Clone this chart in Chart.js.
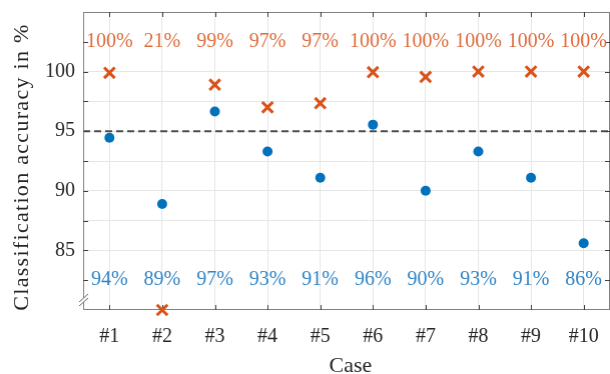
<!DOCTYPE html>
<html>
<head>
<meta charset="utf-8">
<script src="https://cdn.jsdelivr.net/npm/chart.js@4.4.1/dist/chart.umd.min.js"></script>
<style>
  html, body { margin: 0; padding: 0; background: #fff; overflow: hidden; }
  #wrap { width: 610px; height: 374px; }
</style>
</head>
<body>
<div id="wrap"><canvas id="accChart"></canvas></div>
<script>
// values
const cases = ['#1', '#2', '#3', '#4', '#5', '#6', '#7', '#8', '#9', '#10'];
const baselineAcc = [94.45, 88.9, 96.65, 93.3, 91.1, 95.55, 90.0, 93.3, 91.1, 85.6];
const improvedAcc = [99.9, 80.0, 98.9, 97.0, 97.35, 99.95, 99.55, 100, 100, 100];
const baselineText = ['94%', '89%', '97%', '93%', '91%', '96%', '90%', '93%', '91%', '86%'];
const improvedText = ['100%', '21%', '99%', '97%', '97%', '100%', '100%', '100%', '100%', '100%'];
const yTickLabels = [85, 90, 95, 100];
const threshold = 95;

const BLUE = '#0072BD';
const ORANGE = '#D95319';
const SERIF = '"Liberation Serif", "Times New Roman", serif';

const noPad = (s) => { s.paddingLeft = 0; s.paddingRight = 0; s.paddingTop = 0; s.paddingBottom = 0; };

const decor = {
    id: 'decor',
    beforeDatasetsDraw(chart) {
        const { ctx, chartArea: a, scales: { x, y } } = chart;
        ctx.save();
        // 95 % reference line
        const ty = y.getPixelForValue(threshold);
        ctx.strokeStyle = '#4d4d4d';
        ctx.lineWidth = 2;
        ctx.setLineDash([7, 4]);
        ctx.beginPath();
        ctx.moveTo(a.left, ty);
        ctx.lineTo(a.right, ty);
        ctx.stroke();
        ctx.setLineDash([]);

        // box + inward ticks
        ctx.strokeStyle = '#808080';
        ctx.lineWidth = 1;
        ctx.strokeRect(a.left + 0.5, a.top + 0.5, a.right - a.left - 1, a.bottom - a.top - 1);
        ctx.strokeStyle = '#404040';
        ctx.beginPath();
        y.ticks.forEach((t) => {
            if (t.value <= y.min || t.value >= y.max) return;
            const py = Math.round(y.getPixelForValue(t.value)) + 0.5;
            ctx.moveTo(a.left, py); ctx.lineTo(a.left + 5, py);
            ctx.moveTo(a.right, py); ctx.lineTo(a.right - 5, py);
        });
        cases.forEach((c, i) => {
            const px = Math.round(x.getPixelForValue(i)) + 0.5;
            ctx.moveTo(px, a.bottom); ctx.lineTo(px, a.bottom - 5);
            ctx.moveTo(px, a.top); ctx.lineTo(px, a.top + 5);
        });
        ctx.stroke();

        // axis break mark
        const by = a.bottom - 13;
        ctx.fillStyle = '#fff';
        ctx.beginPath();
        ctx.moveTo(a.left - 4, by + 5); ctx.lineTo(a.left + 5, by - 3);
        ctx.lineTo(a.left + 5, by + 1); ctx.lineTo(a.left - 4, by + 9);
        ctx.closePath();
        ctx.fill();
        ctx.strokeStyle = '#666';
        ctx.beginPath();
        ctx.moveTo(a.left - 4, by + 5); ctx.lineTo(a.left + 5, by - 3);
        ctx.moveTo(a.left - 4, by + 9); ctx.lineTo(a.left + 5, by + 1);
        ctx.stroke();
        ctx.restore();
    },
    afterDatasetsDraw(chart) {
        const { ctx, chartArea: a, scales: { x, y } } = chart;
        ctx.save();
        ctx.font = '20px ' + SERIF;
        ctx.textAlign = 'center';
        ctx.textBaseline = 'middle';
        const topY = y.getPixelForValue(102.5);
        const botY = y.getPixelForValue(82.5);
        cases.forEach((c, i) => {
            const px = x.getPixelForValue(i);
            ctx.fillStyle = '#DE6A3A';
            ctx.fillText(improvedText[i], px, topY);
            ctx.fillStyle = '#2F84C6';
            ctx.fillText(baselineText[i], px, botY);
        });

        // axis titles
        ctx.fillStyle = '#262626';
        ctx.font = '22px ' + SERIF;
        ctx.letterSpacing = '1.3px';
        ctx.save();
        ctx.translate(22, (a.top + a.bottom) / 2 + 6);
        ctx.rotate(-Math.PI / 2);
        ctx.fillText('Classification accuracy in %', 0, 0);
        ctx.restore();
        ctx.letterSpacing = '0px';
        ctx.fillText('Case', (a.left + 609) / 2 + 4, 366);
        ctx.restore();
    },
};

const chart = new Chart(document.getElementById('accChart'), {
    type: 'line',
    data: {
        labels: cases,
        datasets: [
            { label: 'Baseline', data: baselineAcc, showLine: false,
              pointStyle: 'circle', pointRadius: 5, pointHoverRadius: 5,
              pointBackgroundColor: BLUE, pointBorderWidth: 0, borderColor: BLUE },
            { label: 'Improved', data: improvedAcc, showLine: false, clip: false,
              pointStyle: 'crossRot', pointRadius: 7.5, pointHoverRadius: 7.5,
              pointBorderColor: ORANGE, pointBorderWidth: 3, borderColor: ORANGE },
        ],
    },
    options: {
        responsive: true,
        maintainAspectRatio: false,
        animation: false,
        events: [],
        layout: { padding: { top: 12, right: 0, left: 0, bottom: 0 } },
        plugins: { legend: { display: false }, tooltip: { enabled: false } },
        scales: {
            x: {
                type: 'category',
                offset: true,
                border: { display: false },
                grid: { offset: false, drawTicks: false, color: '#e6e6e6' },
                ticks: { padding: 15, color: '#262626', font: { family: SERIF, size: 20 } },
                afterFit: (s) => { s.height = 64; noPad(s); },
            },
            y: {
                min: 80,
                max: 105,
                border: { display: false },
                grid: {
                    drawTicks: false,
                    color: (c) => (c.tick && c.tick.value >= 85 && c.tick.value <= 100) ? '#e6e6e6' : 'rgba(0,0,0,0)',
                },
                ticks: {
                    stepSize: 2.5,
                    padding: 8,
                    color: '#262626',
                    font: { family: SERIF, size: 20 },
                    callback: (v) => yTickLabels.includes(v) ? String(v) : '',
                },
                afterFit: (s) => { s.width = 83; noPad(s); },
            },
        },
    },
    plugins: [decor],
});

// stretch the canvas past the window so the plot box ends at x = 609
const gap = 609 - chart.chartArea.right;
if (gap > 0) {
    document.getElementById('wrap').style.width = (610 + gap) + 'px';
    chart.resize(610 + gap, 374);
}
</script>
</body>
</html>
